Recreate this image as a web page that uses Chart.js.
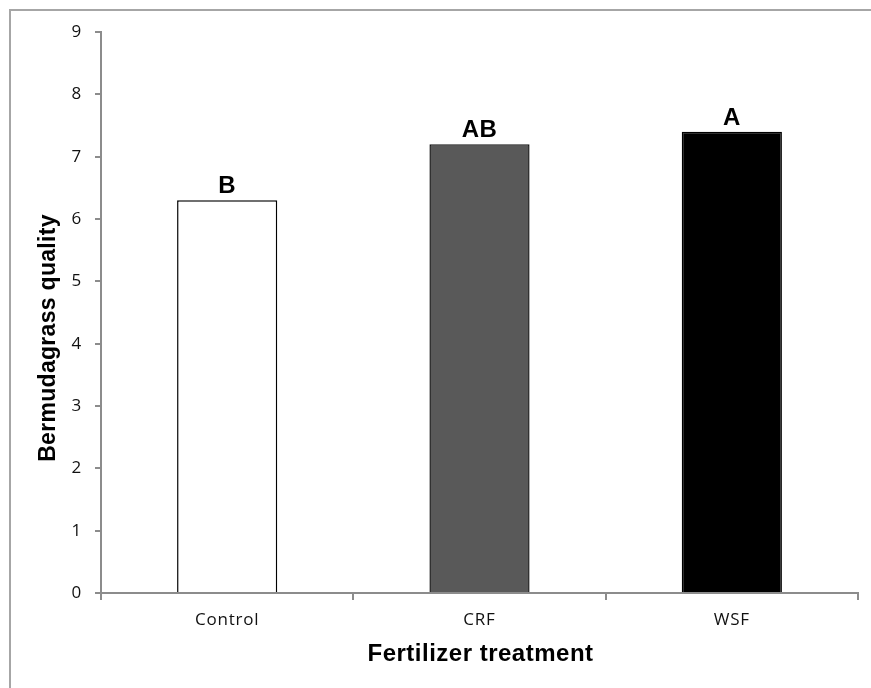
<!DOCTYPE html>
<html>
<head>
<meta charset="utf-8">
<script src="https://cdn.jsdelivr.net/npm/chart.js@4.4.1/dist/chart.umd.min.js"></script>
<style>
  html, body { margin: 0; padding: 0; background: #fff; }
  #wrap { position: relative; width: 871px; height: 688px; overflow: hidden; }
  #frame { position: absolute; left: 9px; top: 9px; width: 900px; height: 700px;
           border-top: 2px solid #a6a6a6; border-left: 2px solid #a6a6a6; }
  canvas { position: absolute; left: 0; top: 0; }
</style>
</head>
<body>
<div id="wrap">
  <div id="frame"></div>
  <canvas id="c" width="871" height="688"></canvas>
</div>
<script>
// data
const treatments = ["Control", "CRF", "WSF"];
const quality = [6.3, 7.2, 7.4];
const groups = ["B", "AB", "A"];   // mean separation letters
const yTicks = [0, 1, 2, 3, 4, 5, 6, 7, 8, 9];

const barFill = ["#ffffff", "#595959", "#000000"];
const barLine = ["#000000", "#1a1a1a", "#000000"];
const axisGray = "#8c8c8c";
const boldFace = "'Liberation Sans', Arial, sans-serif";

// excel-ish spaced tick text
const spacing = {
  id: "spacing",
  beforeDraw(chart) { chart.ctx.letterSpacing = "0.8px"; }
};

// letters above bars + axis titles
const annotate = {
  id: "annotate",
  afterDatasetsDraw(chart) {
    const ctx = chart.ctx;
    const bars = chart.getDatasetMeta(0).data;
    ctx.save();
    ctx.fillStyle = "#000";
    ctx.textAlign = "center";
    ctx.textBaseline = "alphabetic";
    ctx.font = "bold 24px " + boldFace;
    ctx.letterSpacing = "0.5px";
    bars.forEach((b, i) => ctx.fillText(groups[i], b.x, b.y - 7));

    const area = chart.chartArea;
    // x title
    ctx.fillText("Fertilizer treatment", (area.left + area.right) / 2 + 1, 661);
    // y title
    ctx.font = "bold 23px " + boldFace;
    ctx.letterSpacing = "0.3px";
    ctx.translate(55, 338);
    ctx.rotate(-Math.PI / 2);
    ctx.fillText("Bermudagrass quality", 0, 0);
    ctx.restore();
  }
};

new Chart(document.getElementById("c"), {
  type: "bar",
  data: {
    labels: treatments,
    datasets: [{
      data: quality,
      backgroundColor: barFill,
      borderColor: barLine,
      borderWidth: 1.5,
      categoryPercentage: 1,
      barPercentage: 0.397
    }]
  },
  options: {
    responsive: false,
    animation: false,
    devicePixelRatio: 1,
    layout: { padding: { top: 32, right: 13, left: 0, bottom: 0 } },
    plugins: { legend: { display: false }, tooltip: { enabled: false } },
    scales: {
      x: {
        offset: true,
        grid: { offset: true, drawOnChartArea: false, drawTicks: true, tickLength: 7, color: axisGray, lineWidth: 2 },
        border: { color: axisGray, width: 2 },
        ticks: { color: "#111", font: { family: "'Open Sans', sans-serif", size: 17 }, padding: 10 },
        afterFit(s) { s.height = 95; }
      },
      y: {
        min: 0,
        max: 9,
        afterBuildTicks(s) { s.ticks = yTicks.map(v => ({ value: v })); },
        grid: { drawOnChartArea: false, drawTicks: true, tickLength: 6, color: axisGray, lineWidth: 2 },
        border: { color: axisGray, width: 2 },
        ticks: { color: "#111", font: { family: "'Open Sans', sans-serif", size: 17 }, padding: 13 },
        afterFit(s) { s.width = 101; }
      }
    }
  },
  plugins: [spacing, annotate]
});
</script>
</body>
</html>
